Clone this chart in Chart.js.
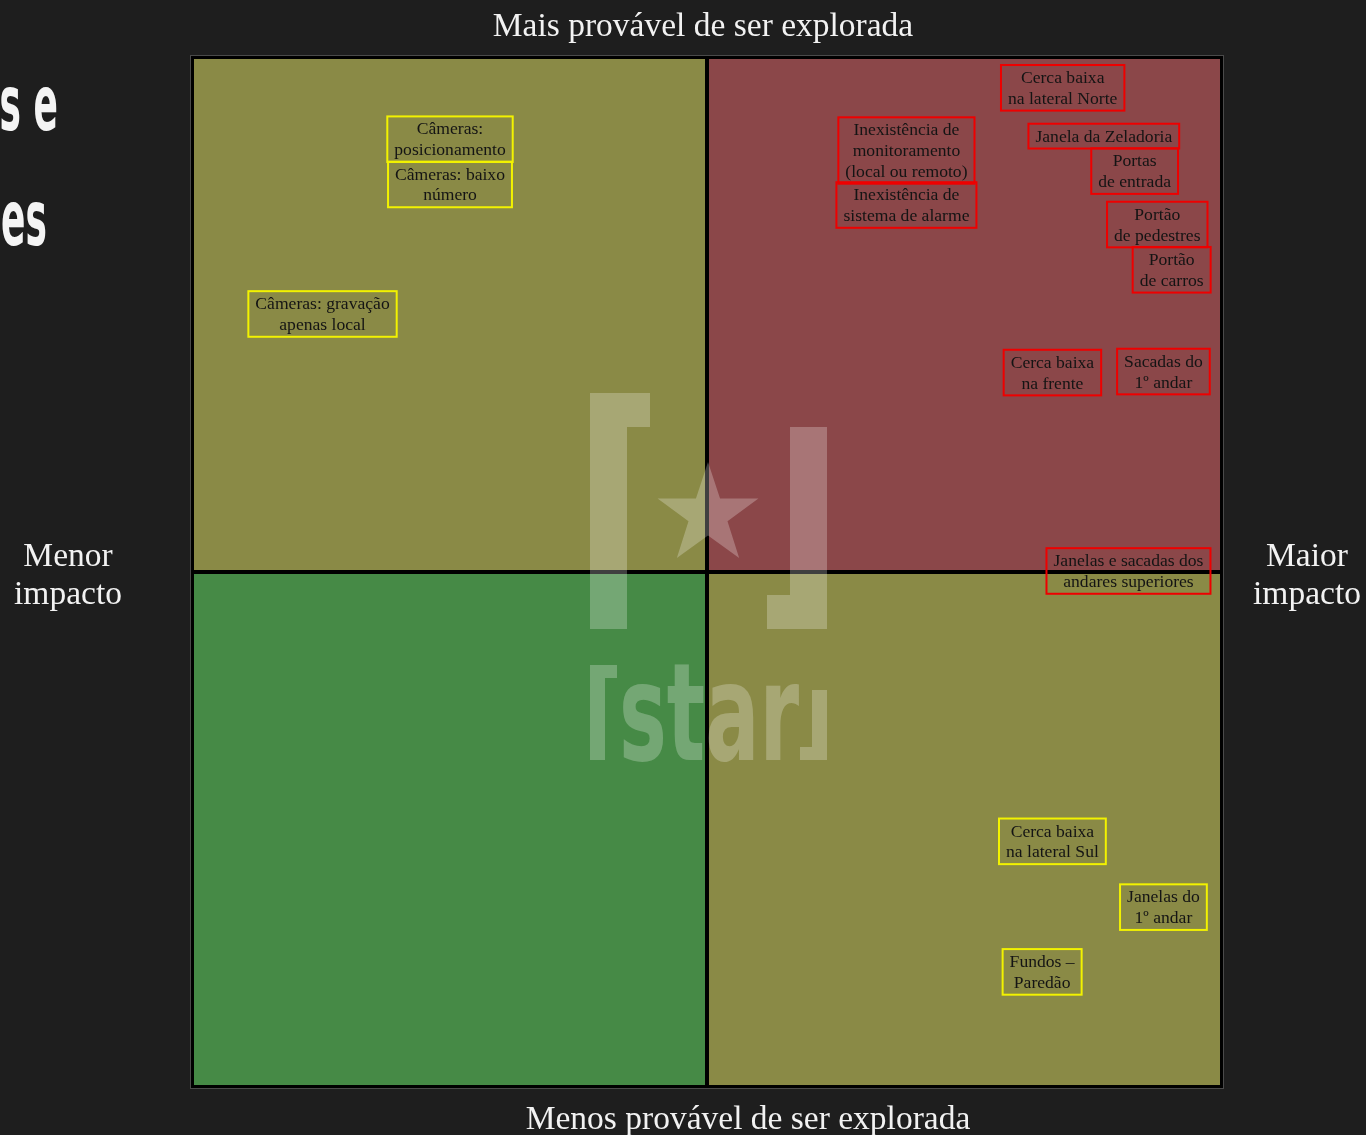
<!DOCTYPE html>
<html>
<head>
<meta charset="utf-8">
<script src="https://cdn.jsdelivr.net/npm/chart.js@4.4.1/dist/chart.umd.min.js"></script>
<style>
  html, body { margin: 0; padding: 0; background: #1e1e1e; }
  #wrap { width: 1366px; height: 1135px; position: relative; }
</style>
</head>
<body>
<div id="wrap"><canvas id="c"></canvas></div>
<script>
// ---------------- DATA ----------------
const riskLabels = [
  "Câmeras:\nposicionamento",
  "Câmeras: baixo\nnúmero",
  "Câmeras: gravação\napenas local",
  "Cerca baixa\nna lateral Norte",
  "Inexistência de\nmonitoramento\n(local ou remoto)",
  "Inexistência de\nsistema de alarme",
  "Janela da Zeladoria",
  "Portas\nde entrada",
  "Portão\nde pedestres",
  "Portão\nde carros",
  "Cerca baixa\nna frente",
  "Sacadas do\n1º andar",
  "Janelas e sacadas dos\nandares superiores",
  "Cerca baixa\nna lateral Sul",
  "Janelas do\n1º andar",
  "Fundos –\nParedão"
];
// impact (x: 0 = menor, 10 = maior)
const impactValues = [2.50, 2.50, 1.26, 8.46, 6.94, 6.94, 8.86, 9.16, 9.38, 9.52, 8.36, 9.44, 9.10, 8.36, 9.44, 8.26];
// likelihood (y: 0 = menos provável, 10 = mais provável)
const likelihoodValues = [9.21, 8.77, 7.51, 9.71, 9.10, 8.57, 9.24, 8.90, 8.38, 7.94, 6.94, 6.95, 5.01, 2.38, 1.74, 1.11];
// risk level of each item
const riskLevels = ["medio","medio","medio","alto","alto","alto","alto","alto","alto","alto","alto","alto","alto","medio","medio","medio"];

// quadrants: [xMin, xMax], [yMin, yMax], level
const quadrantX = [[0,5],[5,10],[0,5],[5,10]];
const quadrantY = [[5,10],[5,10],[0,5],[0,5]];
const quadrantLevels = ["medio","alto","baixo","medio"];

const axisTitles = {
  top: "Mais provável de ser explorada",
  bottom: "Menos provável de ser explorada",
  left: ["Menor", "impacto"],
  right: ["Maior", "impacto"]
};
const cutTitleLines = ["s e", "es"];
const watermarkText = "star";

// ---------------- STYLES ----------------
const quadrantFill = { medio: "rgb(138,138,70)", alto: "rgb(139,71,73)", baixo: "rgb(70,138,70)" };
const boxBorder = { medio: "#f2f200", alto: "#ee0000" };
const serif = '"Liberation Serif", "Times New Roman", serif';

const quadrantPlugin = {
  id: "quadrants",
  beforeDatasetsDraw(chart) {
    const { ctx, chartArea: a, scales: { x, y } } = chart;
    ctx.save();
    for (let i = 0; i < quadrantLevels.length; i++) {
      const x0 = x.getPixelForValue(quadrantX[i][0]);
      const x1 = x.getPixelForValue(quadrantX[i][1]);
      const y0 = y.getPixelForValue(quadrantY[i][1]);
      const y1 = y.getPixelForValue(quadrantY[i][0]);
      ctx.fillStyle = quadrantFill[quadrantLevels[i]];
      ctx.fillRect(x0, y0, x1 - x0, y1 - y0);
    }
    // dividers
    const cx = x.getPixelForValue(5), cy = y.getPixelForValue(5);
    ctx.fillStyle = "#000";
    ctx.fillRect(cx - 2, a.top, 4, a.bottom - a.top);
    ctx.fillRect(a.left, cy - 2, a.right - a.left, 4);
    // outer border
    ctx.strokeStyle = "#000";
    ctx.lineWidth = 3;
    ctx.strokeRect(a.left - 0.5, a.top - 0.5, a.right - a.left + 1, a.bottom - a.top + 1);
    ctx.strokeStyle = "#4a4a4a";
    ctx.lineWidth = 1;
    ctx.strokeRect(a.left - 2.5, a.top - 2.5, a.right - a.left + 5, a.bottom - a.top + 5);

    // watermark logo
    ctx.fillStyle = "rgba(255,255,255,0.25)";
    ctx.beginPath();
    // left bracket
    ctx.moveTo(cx - 117, cy - 179); ctx.lineTo(cx - 57, cy - 179); ctx.lineTo(cx - 57, cy - 145);
    ctx.lineTo(cx - 80, cy - 145); ctx.lineTo(cx - 80, cy + 57); ctx.lineTo(cx - 117, cy + 57); ctx.closePath();
    // right bracket
    ctx.moveTo(cx + 83, cy - 145); ctx.lineTo(cx + 120, cy - 145); ctx.lineTo(cx + 120, cy + 57);
    ctx.lineTo(cx + 60, cy + 57); ctx.lineTo(cx + 60, cy + 23); ctx.lineTo(cx + 83, cy + 23); ctx.closePath();
    ctx.fill();
    // star
    const sx = cx + 1, sy = cy - 57, R = 53, r = 20.5;
    ctx.beginPath();
    for (let k = 0; k < 10; k++) {
      const ang = -Math.PI / 2 + k * Math.PI / 5;
      const rr = k % 2 === 0 ? R : r;
      const px = sx + rr * Math.cos(ang), py = sy + rr * Math.sin(ang);
      if (k === 0) ctx.moveTo(px, py); else ctx.lineTo(px, py);
    }
    ctx.closePath();
    ctx.fill();
    // [star] wordmark
    ctx.beginPath();
    ctx.moveTo(cx - 117, cy + 93); ctx.lineTo(cx - 90, cy + 93); ctx.lineTo(cx - 90, cy + 106);
    ctx.lineTo(cx - 102, cy + 106); ctx.lineTo(cx - 102, cy + 188); ctx.lineTo(cx - 117, cy + 188); ctx.closePath();
    ctx.moveTo(cx + 105, cy + 118); ctx.lineTo(cx + 120, cy + 118); ctx.lineTo(cx + 120, cy + 188);
    ctx.lineTo(cx + 93, cy + 188); ctx.lineTo(cx + 93, cy + 175); ctx.lineTo(cx + 105, cy + 175); ctx.closePath();
    ctx.fill();
    ctx.font = 'bold 100px "DejaVu Sans Condensed", "DejaVu Sans", sans-serif';
    const w = ctx.measureText(watermarkText).width;
    ctx.save();
    ctx.translate(cx - 88, cy + 188);
    ctx.scale(180 / w, 1.36);
    ctx.textAlign = "left";
    ctx.textBaseline = "alphabetic";
    ctx.fillText(watermarkText, 0, 0);
    ctx.restore();
    ctx.restore();
  }
};

const boxPlugin = {
  id: "riskBoxes",
  afterDatasetsDraw(chart) {
    const { ctx } = chart;
    const meta = chart.getDatasetMeta(0);
    ctx.save();
    ctx.font = "17.6px " + serif;
    ctx.textAlign = "center";
    ctx.textBaseline = "middle";
    const lineH = 20.8, padX = 7, padY = 2;
    meta.data.forEach((el, i) => {
      const lines = riskLabels[i].split("\n");
      const tw = Math.max(...lines.map(l => ctx.measureText(l).width));
      const bw = tw + padX * 2, bh = lines.length * lineH + padY * 2;
      const bx = el.x - bw / 2, by = el.y - bh / 2;
      ctx.strokeStyle = boxBorder[riskLevels[i]];
      ctx.lineWidth = 2;
      ctx.strokeRect(bx, by, bw, bh);
      ctx.fillStyle = "#141414";
      lines.forEach((l, k) => {
        ctx.fillText(l, el.x, el.y + (k - (lines.length - 1) / 2) * lineH + 1);
      });
    });
    ctx.restore();
  }
};

const titlePlugin = {
  id: "titles",
  afterDraw(chart) {
    const { ctx } = chart;
    ctx.save();
    ctx.fillStyle = "#f2f2f2";
    ctx.textAlign = "center";
    ctx.textBaseline = "middle";
    ctx.font = "33.5px " + serif;
    ctx.fillText(axisTitles.top, 703, 27);
    ctx.fillText(axisTitles.bottom, 748, 1120);
    ctx.fillText(axisTitles.left[0], 68, 557);
    ctx.fillText(axisTitles.left[1], 68, 595);
    ctx.fillText(axisTitles.right[0], 1307, 557);
    ctx.fillText(axisTitles.right[1], 1307, 595);
    // partially visible slide title at left edge
    ctx.font = 'bold 77px "DejaVu Sans Condensed", "DejaVu Sans", sans-serif';
    ctx.textAlign = "right";
    ctx.textBaseline = "alphabetic";
    ctx.fillStyle = "#f4f4f4";
    ctx.save(); ctx.translate(58, 130); ctx.scale(0.52, 1); ctx.fillText(cutTitleLines[0], 0, 0); ctx.restore();
    ctx.save(); ctx.translate(47, 245); ctx.scale(0.52, 1); ctx.fillText(cutTitleLines[1], 0, 0); ctx.restore();
    ctx.restore();
  }
};

new Chart(document.getElementById("c"), {
  type: "scatter",
  data: {
    datasets: [{
      label: "Vulnerabilidades",
      data: impactValues.map((v, i) => ({ x: v, y: likelihoodValues[i] })),
      pointRadius: 0,
      pointHoverRadius: 0
    }]
  },
  options: {
    responsive: true,
    maintainAspectRatio: false,
    animation: false,
    events: [],
    layout: { padding: { left: 193, right: 145, top: 58, bottom: 49 } },
    scales: {
      x: { type: "linear", min: 0, max: 10, display: false },
      y: { type: "linear", min: 0, max: 10, display: false }
    },
    plugins: { legend: { display: false }, tooltip: { enabled: false }, title: { display: false } }
  },
  plugins: [quadrantPlugin, boxPlugin, titlePlugin]
});
</script>
</body>
</html>
